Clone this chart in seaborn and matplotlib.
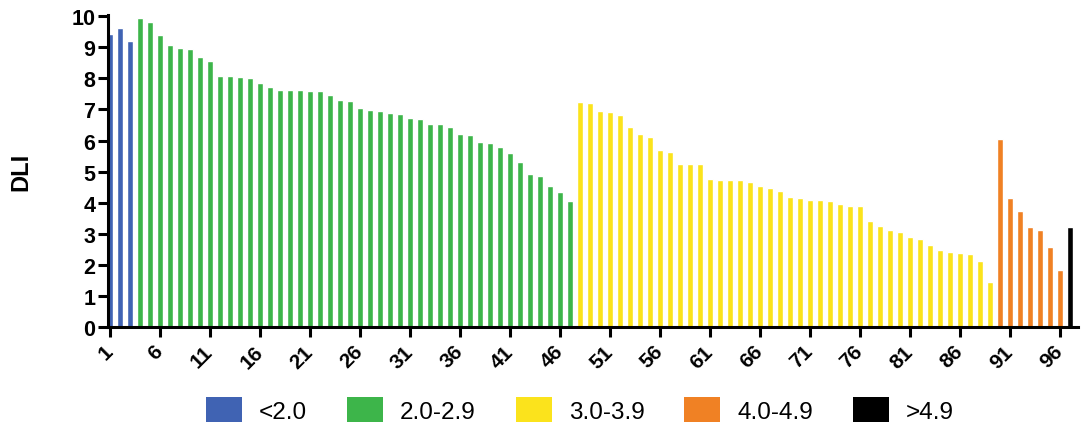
import numpy as np
import pandas as pd
import seaborn as sns
import matplotlib.pyplot as plt
from matplotlib import font_manager
from matplotlib.patches import Patch

sns.set_style("ticks")
plt.rcParams["font.family"] = ["Liberation Sans", "DejaVu Sans"]
plt.rcParams["text.color"] = "black"
plt.rcParams["axes.labelcolor"] = "black"
plt.rcParams["xtick.color"] = "black"
plt.rcParams["ytick.color"] = "black"

# DLI per patient, ordered within each dose group
dli_lt2 = [9.43, 9.63, 9.20]
dli_2_29 = [9.95, 9.80, 9.41, 9.06, 8.98, 8.96, 8.68, 8.57, 8.09, 8.07,
            8.05, 8.02, 7.86, 7.72, 7.63, 7.62, 7.62, 7.61, 7.59, 7.48,
            7.32, 7.27, 7.06, 6.99, 6.95, 6.89, 6.87, 6.72, 6.71, 6.54,
            6.52, 6.44, 6.22, 6.19, 5.96, 5.92, 5.79, 5.60, 5.31, 4.93,
            4.85, 4.55, 4.34, 4.07]
dli_3_39 = [7.25, 7.21, 6.95, 6.91, 6.83, 6.43, 6.22, 6.11, 5.70, 5.65,
            5.25, 5.25, 5.25, 4.77, 4.75, 4.73, 4.72, 4.66, 4.54, 4.47,
            4.39, 4.20, 4.15, 4.10, 4.09, 4.05, 3.96, 3.91, 3.89, 3.42,
            3.24, 3.14, 3.05, 2.89, 2.84, 2.66, 2.47, 2.43, 2.39, 2.34,
            2.14, 1.45]
dli_4_49 = [6.05, 4.16, 3.73, 3.22, 3.13, 2.57, 1.84]
dli_gt49 = [3.22]

group_labels = ["<2.0", "2.0-2.9", "3.0-3.9", "4.0-4.9", ">4.9"]
group_colors = ["#4063b3", "#3db54a", "#fbe31c", "#f08124", "#000000"]
y_ticks = list(range(0, 11))
x_ticks = list(range(1, 97, 5))

series = [dli_lt2, dli_2_29, dli_3_39, dli_4_49, dli_gt49]
dli = np.concatenate(series)
group = np.repeat(group_labels, [len(s) for s in series])
df = pd.DataFrame({"patient": np.arange(1, len(dli) + 1), "dli": dli, "group": group})
palette = dict(zip(group_labels, group_colors))

W, H = 1087, 435
fig = plt.figure(figsize=(W / 100, H / 100), dpi=100)
ax = fig.add_axes([108 / W, 1 - 328.3 / H, (1078 - 108) / W, (328.3 - 15.6) / H])

sns.barplot(data=df, x="patient", y="dli", hue="group", hue_order=group_labels,
            palette=palette, native_scale=True, width=0.58, dodge=False,
            saturation=1, errorbar=None, legend=False, ax=ax)

ax.set_xlim(0.8, 97.8)
ax.set_ylim(0, 10.05)
ax.set_yticks(y_ticks)
ax.set_xticks(x_ticks)
ax.set_yticklabels([str(t) for t in y_ticks], fontsize=15.5, fontweight="bold")
ax.set_xticklabels([str(t) for t in x_ticks], fontsize=15, fontweight="bold",
                   rotation=45, ha="right", va="center", rotation_mode="anchor")
ax.set_xlabel("")
ax.set_ylabel("DLI", fontsize=17, fontweight="bold", labelpad=28)

for side in ("top", "right"):
    ax.spines[side].set_visible(False)
for side in ("left", "bottom"):
    ax.spines[side].set_linewidth(2.2)
    ax.spines[side].set_color("black")
ax.tick_params(axis="both", length=7, width=2.2, color="black",
               labelcolor="black", pad=2)
ax.tick_params(axis="x", pad=8)

# Condensed face for the legend when available
installed = {f.name for f in font_manager.fontManager.ttflist}
if "Liberation Sans Narrow" in installed:
    leg_family, leg_pt = "Liberation Sans Narrow", 21.0
else:
    leg_family, leg_pt = "Liberation Sans", 17.5
F = leg_pt * 100 / 72  # font size in pixels

handles = [Patch(facecolor=c, edgecolor="none") for c in group_colors]
fig.legend(handles, group_labels, loc="center", bbox_to_anchor=(580 / W, 0.055),
           ncol=5, frameon=False, handlelength=36 / F, handleheight=28 / F,
           handletextpad=17 / F, columnspacing=40 / F, borderpad=0,
           prop={"family": leg_family, "size": leg_pt})

fig.savefig("out.png", dpi=100)
